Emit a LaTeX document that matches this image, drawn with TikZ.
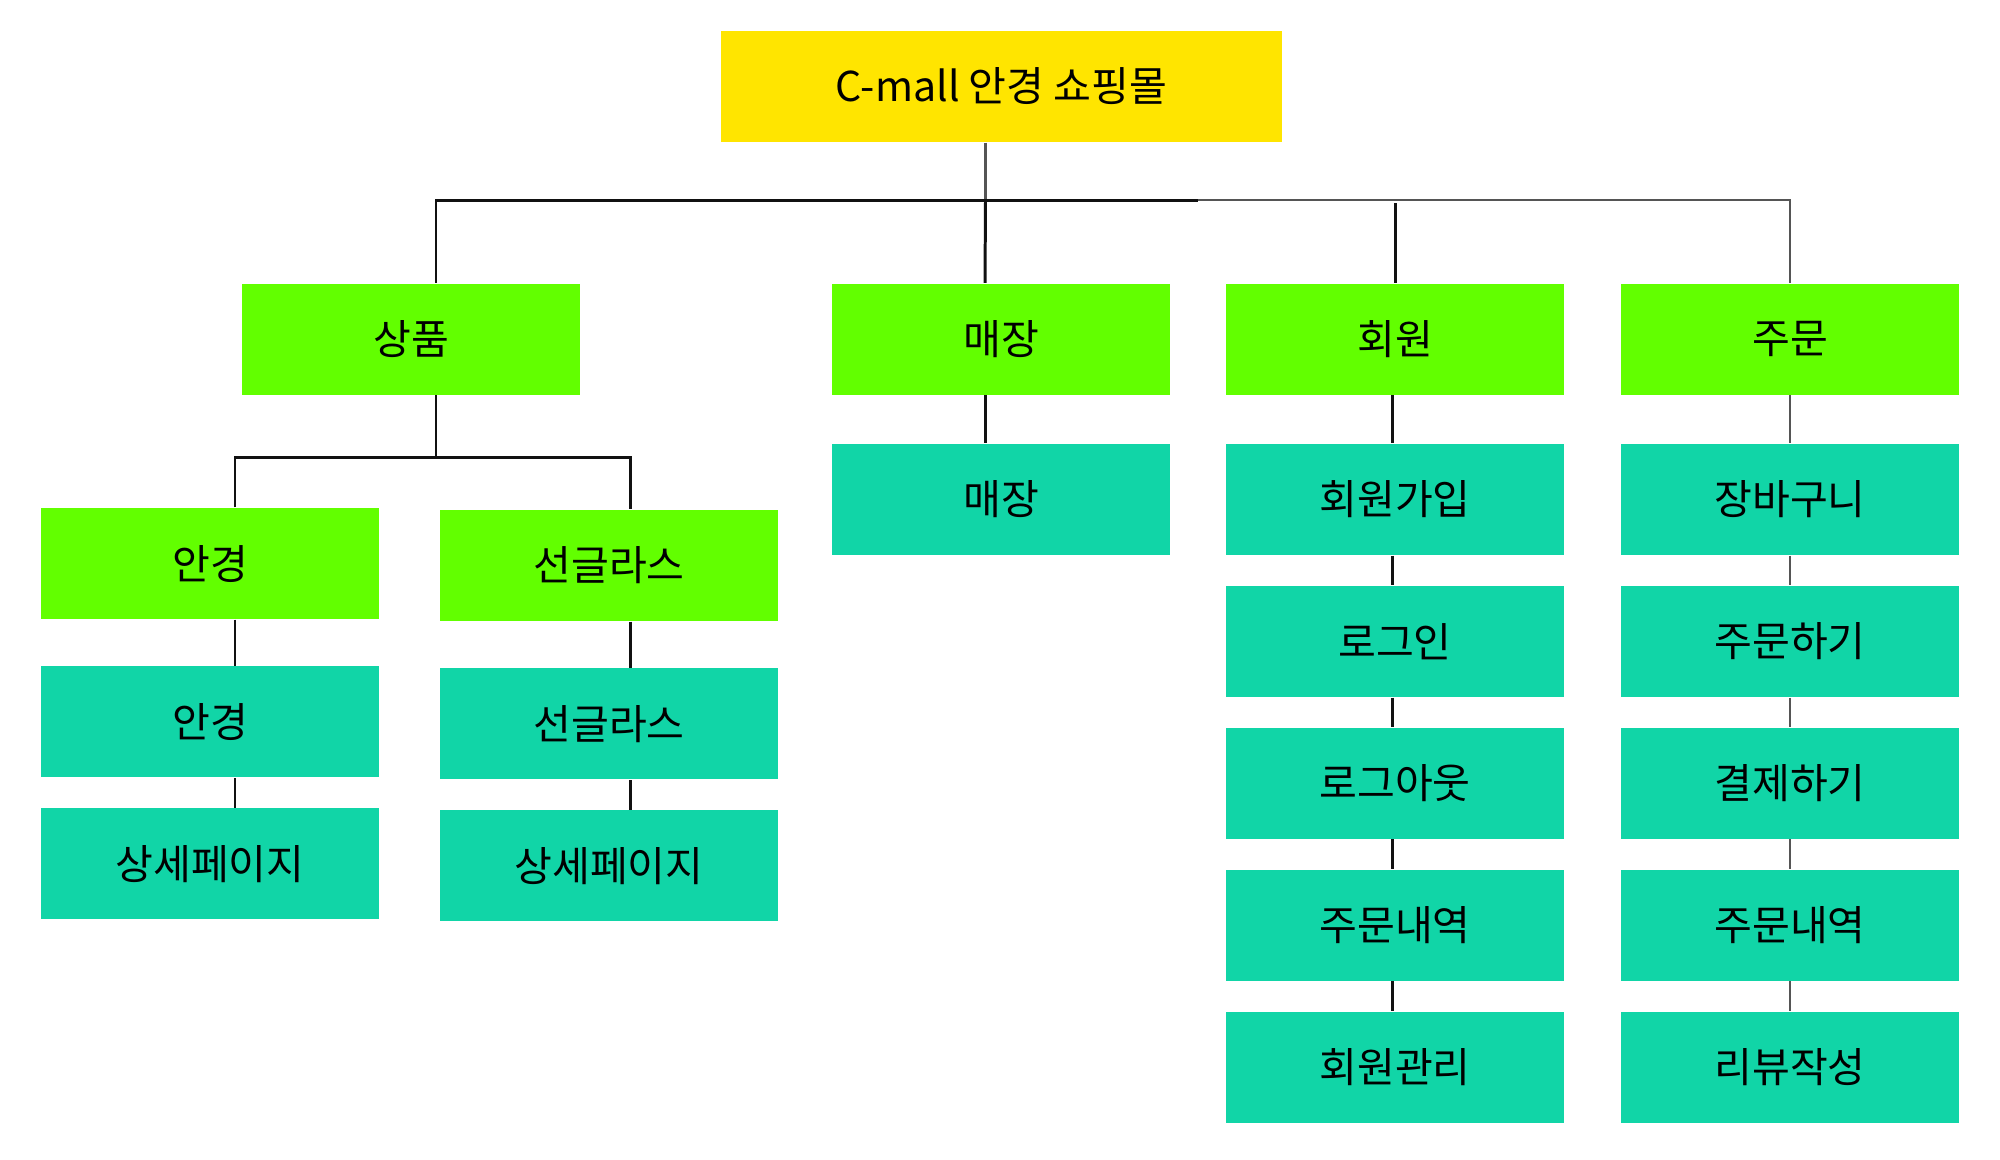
\documentclass[tikz,border=0pt]{standalone}
\usepackage{fontspec}
\setmainfont{Noto Sans CJK KR}
\usepackage{xcolor}
\usepackage{tikz}
\usetikzlibrary{
  positioning,
  calc
}
\definecolor{smRoot}{HTML}{FFE500}
\definecolor{smCat}{HTML}{62FF00}
\definecolor{smPage}{HTML}{11D5A7}
\definecolor{smLine}{HTML}{111111}
\definecolor{smGray}{HTML}{555555}
\tikzset{
  smnode/.style={
    draw=none, minimum width=33.8mm, minimum height=11.1mm,
    font=\fontsize{11.7pt}{14pt}\selectfont, align=center, inner sep=0pt
  },
  rootbox/.style={smnode, fill=smRoot, minimum width=56.1mm},
  catbox/.style={smnode, fill=smCat},
  pagebox/.style={smnode, fill=smPage},
  link/.style={line width=0.85pt, smLine},
  linkgray/.style={line width=0.8pt, smGray}
}
\begin{document}
\begin{tikzpicture}[node distance=2.95mm]
  \useasboundingbox (0,0) rectangle (20,-11.59);
  \node[rootbox] (root) at (10.015,-0.865) {C-mall 안경 쇼핑몰};
  \node[catbox] (goods) at (4.11,-3.39) {상품};
  \node[catbox] (store) at (10.01,-3.39) {매장};
  \node[catbox] (member) at (13.95,-3.39) {회원};
  \node[catbox] (order) at (17.90,-3.39) {주문};
  \node[catbox] (glasses) at (2.10,-5.635) {안경};
  \node[catbox] (sun) at (6.09,-5.655) {선글라스};
  \node[pagebox, below=4.6mm of glasses] (glassesA) {안경};
  \node[pagebox, below=of glassesA] (glassesB) {상세페이지};
  \node[pagebox, below=4.6mm of sun] (sunA) {선글라스};
  \node[pagebox, below=of sunA] (sunB) {상세페이지};
  \node[pagebox, below=4.8mm of store] (storeA) {매장};
  \node[pagebox, below=4.8mm of member] (memberA) {회원가입};
  \node[pagebox, below=of memberA] (memberB) {로그인};
  \node[pagebox, below=of memberB] (memberC) {로그아웃};
  \node[pagebox, below=of memberC] (memberD) {주문내역};
  \node[pagebox, below=of memberD] (memberE) {회원관리};
  \node[pagebox, below=4.8mm of order] (orderA) {장바구니};
  \node[pagebox, below=of orderA] (orderB) {주문하기};
  \node[pagebox, below=of orderB] (orderC) {결제하기};
  \node[pagebox, below=of orderC] (orderD) {주문내역};
  \node[pagebox, below=of orderD] (orderE) {리뷰작성};
  \coordinate (bus) at (10,-2.00);
  \coordinate (busmid) at (11.98,-2.00);
  \draw[linkgray] ([xshift=-1.6mm]root.south) -- ([xshift=-1.6mm]root.south |- bus);
  \draw[link] ([xshift=-1.6mm]root.south |- bus) -- ([xshift=-1.6mm]store.north);
  \draw[link] ([xshift=2.5mm]goods.north) |- (busmid);
  \draw[linkgray] (busmid) -| (order.north);
  \draw[link] (member.north) -- ([yshift=-0.3mm]member.north |- bus);
  \draw[link] ([xshift=2.5mm]goods.south) -- ++(0,-0.62) coordinate (subbus);
  \draw[link] ([xshift=2.5mm]glasses.north) |- (subbus) -| ([xshift=2.1mm]sun.north);
  \foreach \a/\b/\s in {glasses/glassesA/2.5mm, glassesA/glassesB/2.5mm,
      sun/sunA/2.1mm, sunA/sunB/2.1mm, store/storeA/-1.6mm,
      member/memberA/-0.3mm, memberA/memberB/-0.3mm, memberB/memberC/-0.3mm,
      memberC/memberD/-0.3mm, memberD/memberE/-0.3mm}
    \draw[link] ([xshift=\s]\a.south) -- ([xshift=\s]\b.north);
  \foreach \a/\b in {order/orderA, orderA/orderB, orderB/orderC, orderC/orderD, orderD/orderE}
    \draw[linkgray] (\a.south) -- (\b.north);
\end{tikzpicture}
\end{document}
